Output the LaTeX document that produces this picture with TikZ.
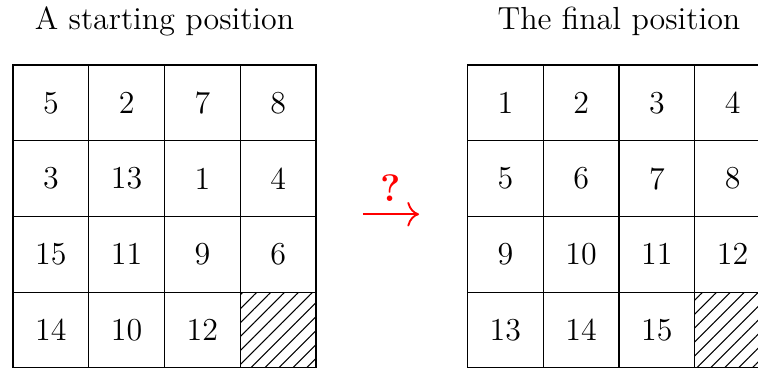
\documentclass[tikz,border=0pt]{standalone}
\usetikzlibrary{positioning, arrows.meta, patterns.meta}

\begin{document}
\begin{tikzpicture}[
    font=\large,
    cell/.style={draw, minimum size=1cm, inner sep=0pt},
    hole/.style={cell, pattern={Lines[angle=45, distance=3.7pt, line width=0.4pt]}},
    title/.style={font=\large},
    move/.style={-{To[scale=1.4]}, red, line width=0.7pt},
]
\useasboundingbox (-0.172, 0) rectangle (9.835, 4.858);

% Titles
\node[title] (tstart) at (2, 4.57) {A starting position};
\node[title] (tfinal) at (8, 4.57) {The final position};

% Starting position
\foreach \n [count=\i from 0] in {5,2,7,8,3,13,1,4,15,11,9,6,14,10,12} {
    \pgfmathtruncatemacro\c{mod(\i,4)}
    \pgfmathtruncatemacro\r{div(\i,4)}
    \node[cell] (s\i) at (\c+0.5, 3.5-\r) {\n};
}
\node[hole] (s15) at (3.5, 0.5) {};

% Final position
\foreach \n [count=\i from 0] in {1,...,15} {
    \pgfmathtruncatemacro\c{mod(\i,4)}
    \pgfmathtruncatemacro\r{div(\i,4)}
    \node[cell] (f\i) at (\c+6.5, 3.5-\r) {\n};
}
\node[hole] (f15) at (9.5, 0.5) {};

% Arrow between the two
\coordinate (arrL) at (4.62, 2.03);
\coordinate (arrR) at (5.36, 2.03);
\draw[move] (arrL) -- node[above=1pt, text=red, font=\Large] {\textbf{?}} (arrR);

\end{tikzpicture}
\end{document}
